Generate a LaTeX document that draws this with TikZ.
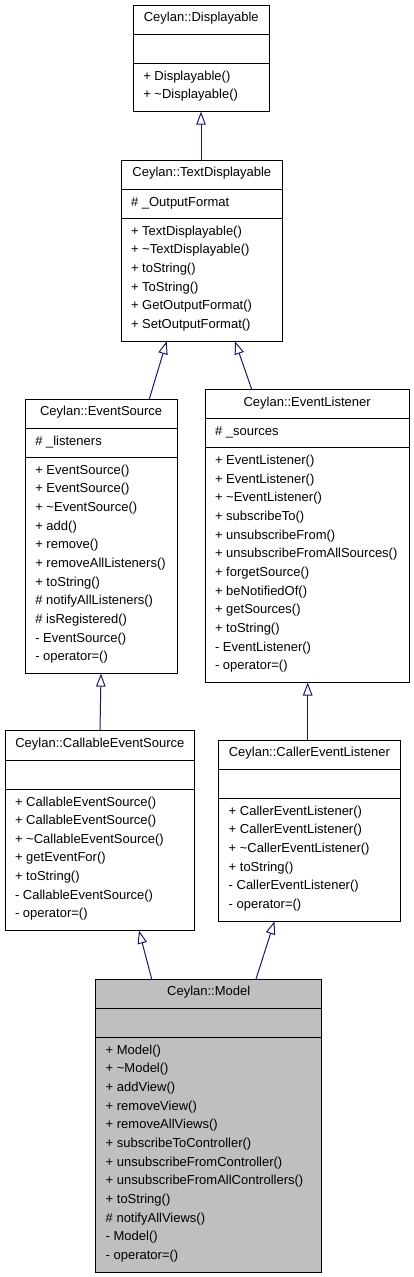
\documentclass[tikz,border=0pt]{standalone}
\usepackage{fontspec}
\setmainfont{Liberation Sans}
\usetikzlibrary{arrows.meta,calc}
\definecolor{edgeblue}{HTML}{191970}
\definecolor{modelgray}{HTML}{BFBFBF}
\tikzset{
  classbox/.style={draw=black, line width=1pt, rectangle, inner sep=0pt, outer sep=0pt},
  sepline/.style={draw=black, line width=1pt},
  txt/.style={inner sep=0pt, outer sep=0pt, font=\fontsize{13}{15.6}\selectfont},
  inh/.style={draw=edgeblue, line width=1pt, -{Triangle[length=13pt,width=9.5pt,fill=white]}},
}
\newcommand{\umlclass}[9][white]{%
  \pgfmathsetmacro{\boxh}{58.6+10.7+18.66*#6}%
  \pgfmathsetmacro{\boxw}{#5-#3}%
  \node[classbox, fill=#1, minimum width=\boxw pt, minimum height=\boxh pt, anchor=north west] (#2) at (#3,#4) {};
  \draw[sepline] ([yshift=-29.3pt]#2.north west) -- ([yshift=-29.3pt]#2.north east);
  \draw[sepline] ([yshift=-58.6pt]#2.north west) -- ([yshift=-58.6pt]#2.north east);
  \node[txt, anchor=base] (#2-title) at ([yshift=-16.7pt]#2.north) {#7};
  \node[txt, anchor=base west] (#2-attr) at ([xshift=10pt,yshift=-46pt]#2.north west) {#8};
  \foreach \m [count=\i from 0] in {#9} {
    \node[txt, anchor=base west] (#2-m\i) at ([xshift=10pt,yshift={-75.3pt-18.66pt*\i}]#2.north west) {\m};
  }%
}
\begin{document}
\begin{tikzpicture}[x=1pt,y=-1pt]
\useasboundingbox[fill=white] (0,0) rectangle (413,1277);

\umlclass{disp}{133.3}{5}{269.3}{2}{Ceylan::Displayable}{}{%
  {+ Displayable()},{+ \textasciitilde Displayable()}}

\umlclass{ts}{121}{160}{282.7}{6}{Ceylan::TextDisplayable}{\# \_OutputFormat}{%
  {+ TextDisplayable()},{+ \textasciitilde TextDisplayable()},{+ toString()},{+ ToString()},{+ GetOutputFormat()},{+ SetOutputFormat()}}

\umlclass{es}{25.3}{399}{177}{11}{Ceylan::EventSource}{\# \_listeners}{%
  {+ EventSource()},{+ EventSource()},{+ \textasciitilde EventSource()},{+ add()},{+ remove()},{+ removeAllListeners()},{+ toString()},{\# notifyAllListeners()},{\# isRegistered()},{- EventSource()},{- operator=()}}

\umlclass{el}{205}{389.3}{409.3}{12}{Ceylan::EventListener}{\# \_sources}{%
  {+ EventListener()},{+ EventListener()},{+ \textasciitilde EventListener()},{+ subscribeTo()},{+ unsubscribeFrom()},{+ unsubscribeFromAllSources()},{+ forgetSource()},{+ beNotifiedOf()},{+ getSources()},{+ toString()},{- EventListener()},{- operator=()}}

\umlclass{ces}{5}{730.7}{194.7}{7}{Ceylan::CallableEventSource}{}{%
  {+ CallableEventSource()},{+ CallableEventSource()},{+ \textasciitilde CallableEventSource()},{+ getEventFor()},{+ toString()},{- CallableEventSource()},{- operator=()}}

\umlclass{cel}{218.7}{740}{400}{6}{Ceylan::CallerEventListener}{}{%
  {+ CallerEventListener()},{+ CallerEventListener()},{+ \textasciitilde CallerEventListener()},{+ toString()},{- CallerEventListener()},{- operator=()}}

\umlclass[modelgray]{model}{95.7}{979}{321.7}{12}{Ceylan::Model}{}{%
  {+ Model()},{+ \textasciitilde Model()},{+ addView()},{+ removeView()},{+ removeAllViews()},{+ subscribeToController()},{+ unsubscribeFromController()},{+ unsubscribeFromAllControllers()},{+ toString()},{\# notifyAllViews()},{- Model()},{- operator=()}}

% inheritance connectors
\draw[inh] ([xshift=80pt]ts.north west) -- ([xshift=67.7pt]disp.south west);
\draw[inh] ([xshift=124pt]es.north west) -- ([xshift=45.7pt]ts.south west);
\draw[inh] ([xshift=46.7pt]el.north west) -- ([xshift=114pt]ts.south west);
\draw[inh] ([xshift=95pt]ces.north west) -- ([xshift=75.7pt]es.south west);
\draw[inh] ([xshift=89pt]cel.north west) -- ([xshift=102.7pt]el.south west);
\draw[inh] ([xshift=56pt]model.north west) -- ([xshift=134pt]ces.south west);
\draw[inh] ([xshift=160.3pt]model.north west) -- ([xshift=55.8pt]cel.south west);
\end{tikzpicture}
\end{document}
